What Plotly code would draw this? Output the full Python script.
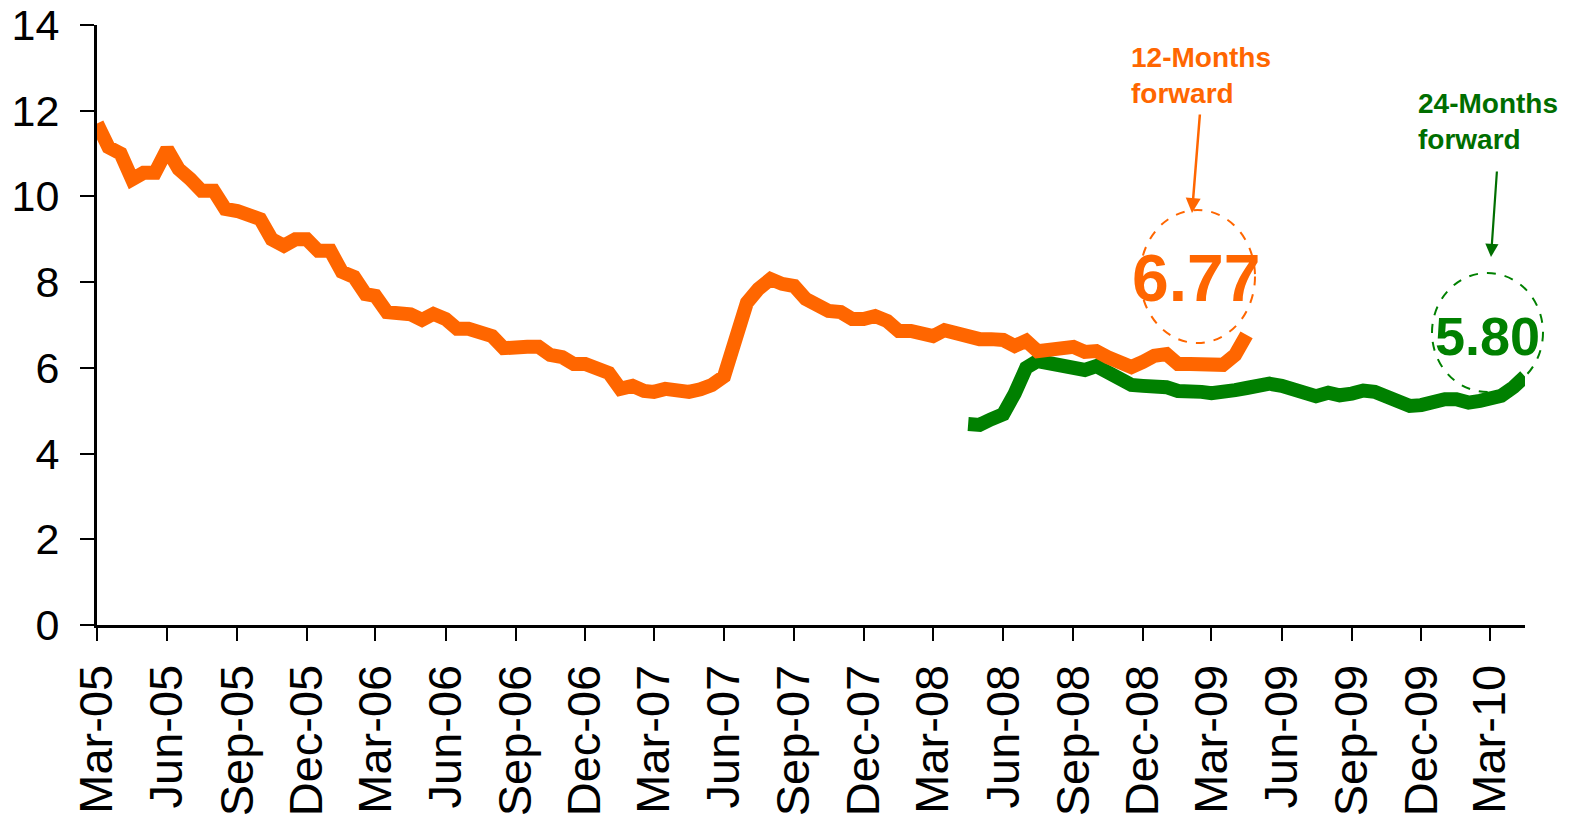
import pandas as pd
import plotly.graph_objects as go

# Semi-monthly observation dates (1st and 16th of each month), Mar-2005 .. Apr-2010
months = pd.date_range("2005-03-01", "2010-04-01", freq="MS")
dates = []
for m in months:
    dates.append(m)
    dates.append(m + pd.Timedelta(days=15))

# 12-month forward rate, from Mar-2005 to Apr-2009
forward_12m = [
    11.70, 11.15, 11.00, 10.40, 10.55, 10.55, 11.10, 10.64, 10.41, 10.13,
    10.13, 9.71, 9.66, 9.52, 9.47, 9.00, 8.85, 9.00, 9.00, 8.73,
    8.73, 8.24, 8.12, 7.72, 7.68, 7.30, 7.25, 7.25, 7.12, 7.26,
    7.14, 6.91, 6.91, 6.79, 6.74, 6.46, 6.51, 6.49, 6.49, 6.30,
    6.25, 6.09, 6.09, 6.00, 5.88, 5.51, 5.58, 5.46, 5.44, 5.51,
    5.46, 5.44, 5.50, 5.60, 5.80, 6.67, 7.52, 7.84, 8.07, 7.96,
    7.91, 7.61, 7.47, 7.33, 7.30, 7.14, 7.14, 7.21, 7.09, 6.86,
    6.86, 6.81, 6.74, 6.88, 6.79, 6.67, 6.67, 6.67, 6.65, 6.51,
    6.63, 6.39, 6.44, 6.42, 6.49, 6.37, 6.39, 6.25, 6.16, 6.02,
    6.14, 6.28, 6.32, 6.09, 6.09, 6.09, 6.07, 6.07, 6.30, 6.77,
]

# 24-month forward rate, from mid-Apr-2008 to mid-Apr-2010
forward_24m_start = 75
forward_24m = [
    4.69, 4.67, 4.80, 4.92, 5.40, 6.00, 6.16, 6.10, 6.07, 6.04,
    5.95, 6.04, 5.88, 5.70, 5.60, 5.58, 5.60, 5.55, 5.46, 5.48,
    5.44, 5.41, 5.48, 5.48, 5.53, 5.62, 5.63, 5.58, 5.48, 5.43,
    5.34, 5.42, 5.36, 5.40, 5.47, 5.44, 5.36, 5.22, 5.11, 5.13,
    5.22, 5.27, 5.27, 5.19, 5.23, 5.25, 5.35, 5.55, 5.80,
]

ORANGE = "#FF6600"
GREEN = "#008000"
DARK_GREEN = "#006E00"
FONT = "Liberation Sans, Arial, sans-serif"

W, H = 1572, 824
L, R, T, B = 97, 47, 25, 199
PW, PH = W - L - R, H - T - B


def px(x):
    return (x - L) / PW


def py(y):
    return (H - B - y) / PH


fig = go.Figure()

fig.add_trace(go.Scatter(
    x=dates[forward_24m_start:forward_24m_start + len(forward_24m)],
    y=forward_24m,
    mode="lines",
    line=dict(color=GREEN, width=14),
    showlegend=False,
    hoverinfo="skip",
))
fig.add_trace(go.Scatter(
    x=dates[:len(forward_12m)],
    y=forward_12m,
    mode="lines",
    line=dict(color=ORANGE, width=14),
    showlegend=False,
    hoverinfo="skip",
))

# Dashed rings around the latest values
fig.add_shape(type="circle", xref="paper", yref="paper",
              x0=px(1140), x1=px(1255), y0=py(343), y1=py(210),
              line=dict(color=ORANGE, width=2, dash="dash"))
fig.add_shape(type="circle", xref="paper", yref="paper",
              x0=px(1432), x1=px(1543), y0=py(392), y1=py(273),
              line=dict(color=GREEN, width=2, dash="dash"))

annotations = [
    dict(text="12-Months<br>forward", x=px(1129), y=py(76), xanchor="left",
         yanchor="middle", align="left", showarrow=False,
         font=dict(family=FONT, size=28, color=ORANGE, weight="bold")),
    dict(text="24-Months<br>forward", x=px(1416), y=py(121), xanchor="left",
         yanchor="middle", align="left", showarrow=False,
         font=dict(family=FONT, size=28, color=DARK_GREEN, weight="bold")),
    dict(text="", x=px(1192), y=py(213), showarrow=True, ax=8, ay=-100,
         arrowhead=2, arrowsize=1.2, arrowwidth=2.5, arrowcolor=ORANGE,
         standoff=0),
    dict(text="", x=px(1491), y=py(257), showarrow=True, ax=6, ay=-87,
         arrowhead=2, arrowsize=1.2, arrowwidth=2.2, arrowcolor=DARK_GREEN,
         standoff=0),
    dict(text=f"{forward_12m[-1]:.2f}", x=px(1196), y=py(278), xanchor="center",
         yanchor="middle", showarrow=False,
         font=dict(family=FONT, size=66, color=ORANGE, weight="bold")),
    dict(text=f"{forward_24m[-1]:.2f}", x=px(1487), y=py(336), xanchor="center",
         yanchor="middle", showarrow=False,
         font=dict(family=FONT, size=54, color=GREEN, weight="bold")),
]
for a in annotations:
    a.update(xref="paper", yref="paper")

fig.update_layout(
    width=W, height=H, autosize=False,
    margin=dict(l=L, r=R, t=T, b=B, pad=0, autoexpand=False),
    paper_bgcolor="white", plot_bgcolor="white",
    annotations=annotations,
    font=dict(family=FONT, color="black"),
)

fig.update_xaxes(
    type="date", automargin=False,
    range=[dates[0], dates[len(dates) - 1]],
    tick0="2005-03-01", dtick="M3", tickformat="%b-%y",
    tickangle=-90,
    ticks="outside", ticklen=13, tickwidth=1.5, tickcolor="black",
    showline=True, linecolor="black", linewidth=3,
    showgrid=False, zeroline=False,
    tickfont=dict(family=FONT, size=47, color="black"),
    ticklabelstandoff=5,
)
fig.update_yaxes(
    automargin=False,
    range=[0, 14], dtick=2,
    ticks="outside", ticklen=14, tickwidth=1.5, tickcolor="black",
    showline=True, linecolor="black", linewidth=3,
    showgrid=False, zeroline=False,
    tickfont=dict(family=FONT, size=43, color="black"),
    ticklabelstandoff=12,
)

fig.write_html("out.html")
